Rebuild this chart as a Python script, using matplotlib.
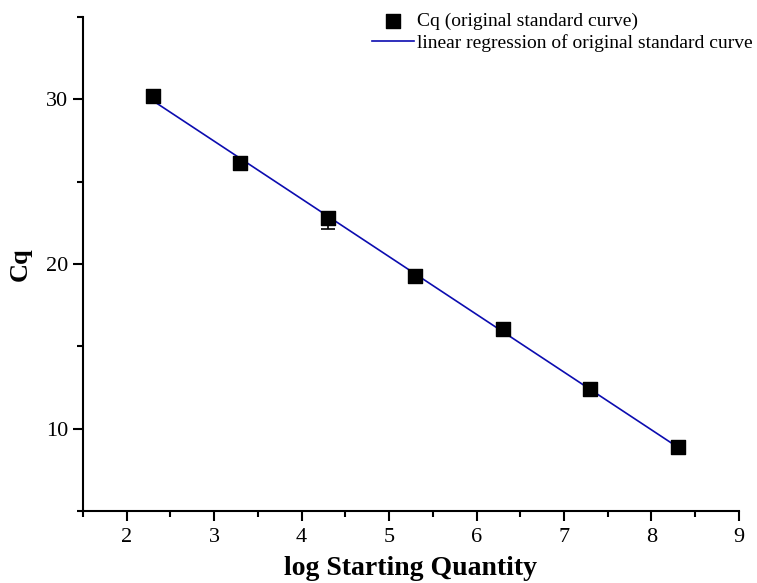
import matplotlib
matplotlib.use('Agg')
import matplotlib.pyplot as plt
import numpy as np
from matplotlib.ticker import MultipleLocator

# ---- data ----
log_qty = [2.3, 3.3, 4.3, 5.3, 6.3, 7.3, 8.3]
cq      = [30.2, 26.15, 22.8, 19.25, 16.05, 12.4, 8.9]
cq_lo   = [0.1, 0.1, 0.67, 0.1, 0.1, 0.1, 0.1]   # only the lower whisker shows
cq_hi   = [0.0, 0.0, 0.0, 0.0, 0.0, 0.0, 0.0]

POINT_C, LINE_C = 'black', '#0c0cb0'

plt.rcParams['font.family'] = ['Liberation Serif', 'DejaVu Serif']

fig = plt.figure(figsize=(7.57, 5.83), dpi=100)
ax = fig.add_axes([0.1096, 0.1235, 0.8665, 0.8475])

# linear regression through the standard curve points
slope, icpt = np.polyfit(log_qty, cq, 1)
xs = np.array([log_qty[0], log_qty[-1]])
ax.plot(xs, slope * xs + icpt, color=LINE_C, lw=1.2, zorder=2,
        label="linear regression of original standard curve")
ax.errorbar(log_qty, cq, yerr=[cq_lo, cq_hi], fmt='none', ecolor='black',
            elinewidth=1.2, capsize=5, capthick=1.2, zorder=3)
ax.scatter(log_qty, cq, marker='s', s=110, color=POINT_C, zorder=4,
           label="Cq (original standard curve)")

ax.set_xlim(1.5, 9)
ax.set_ylim(5, 35)
ax.xaxis.set_minor_locator(MultipleLocator(0.5))
ax.yaxis.set_minor_locator(MultipleLocator(5))
ax.set_xticks(range(2, 10))
ax.set_yticks([10, 20, 30])

for s in ['top', 'right']:
    ax.spines[s].set_visible(False)
for s in ['left', 'bottom']:
    ax.spines[s].set_linewidth(1.5)
ax.tick_params(which='major', direction='out', length=7, width=1.5, labelsize=16)
ax.tick_params(axis='x', which='major', pad=5)
ax.tick_params(which='minor', direction='out', length=4, width=1.5)

ax.set_xlabel("log Starting Quantity", fontsize=20, fontweight='bold', labelpad=7)
ax.set_ylabel("Cq", fontsize=19, fontweight='bold', labelpad=10)

h, l = ax.get_legend_handles_labels()
fig.legend(h[::-1], l[::-1], loc='upper left', bbox_to_anchor=(0.491, 0.978),
           frameon=False, fontsize=14, handlelength=2.2, handletextpad=0.15,
           labelspacing=0.2, borderpad=0, borderaxespad=0, markerscale=0.9)

fig.savefig('out.png', dpi=100)
